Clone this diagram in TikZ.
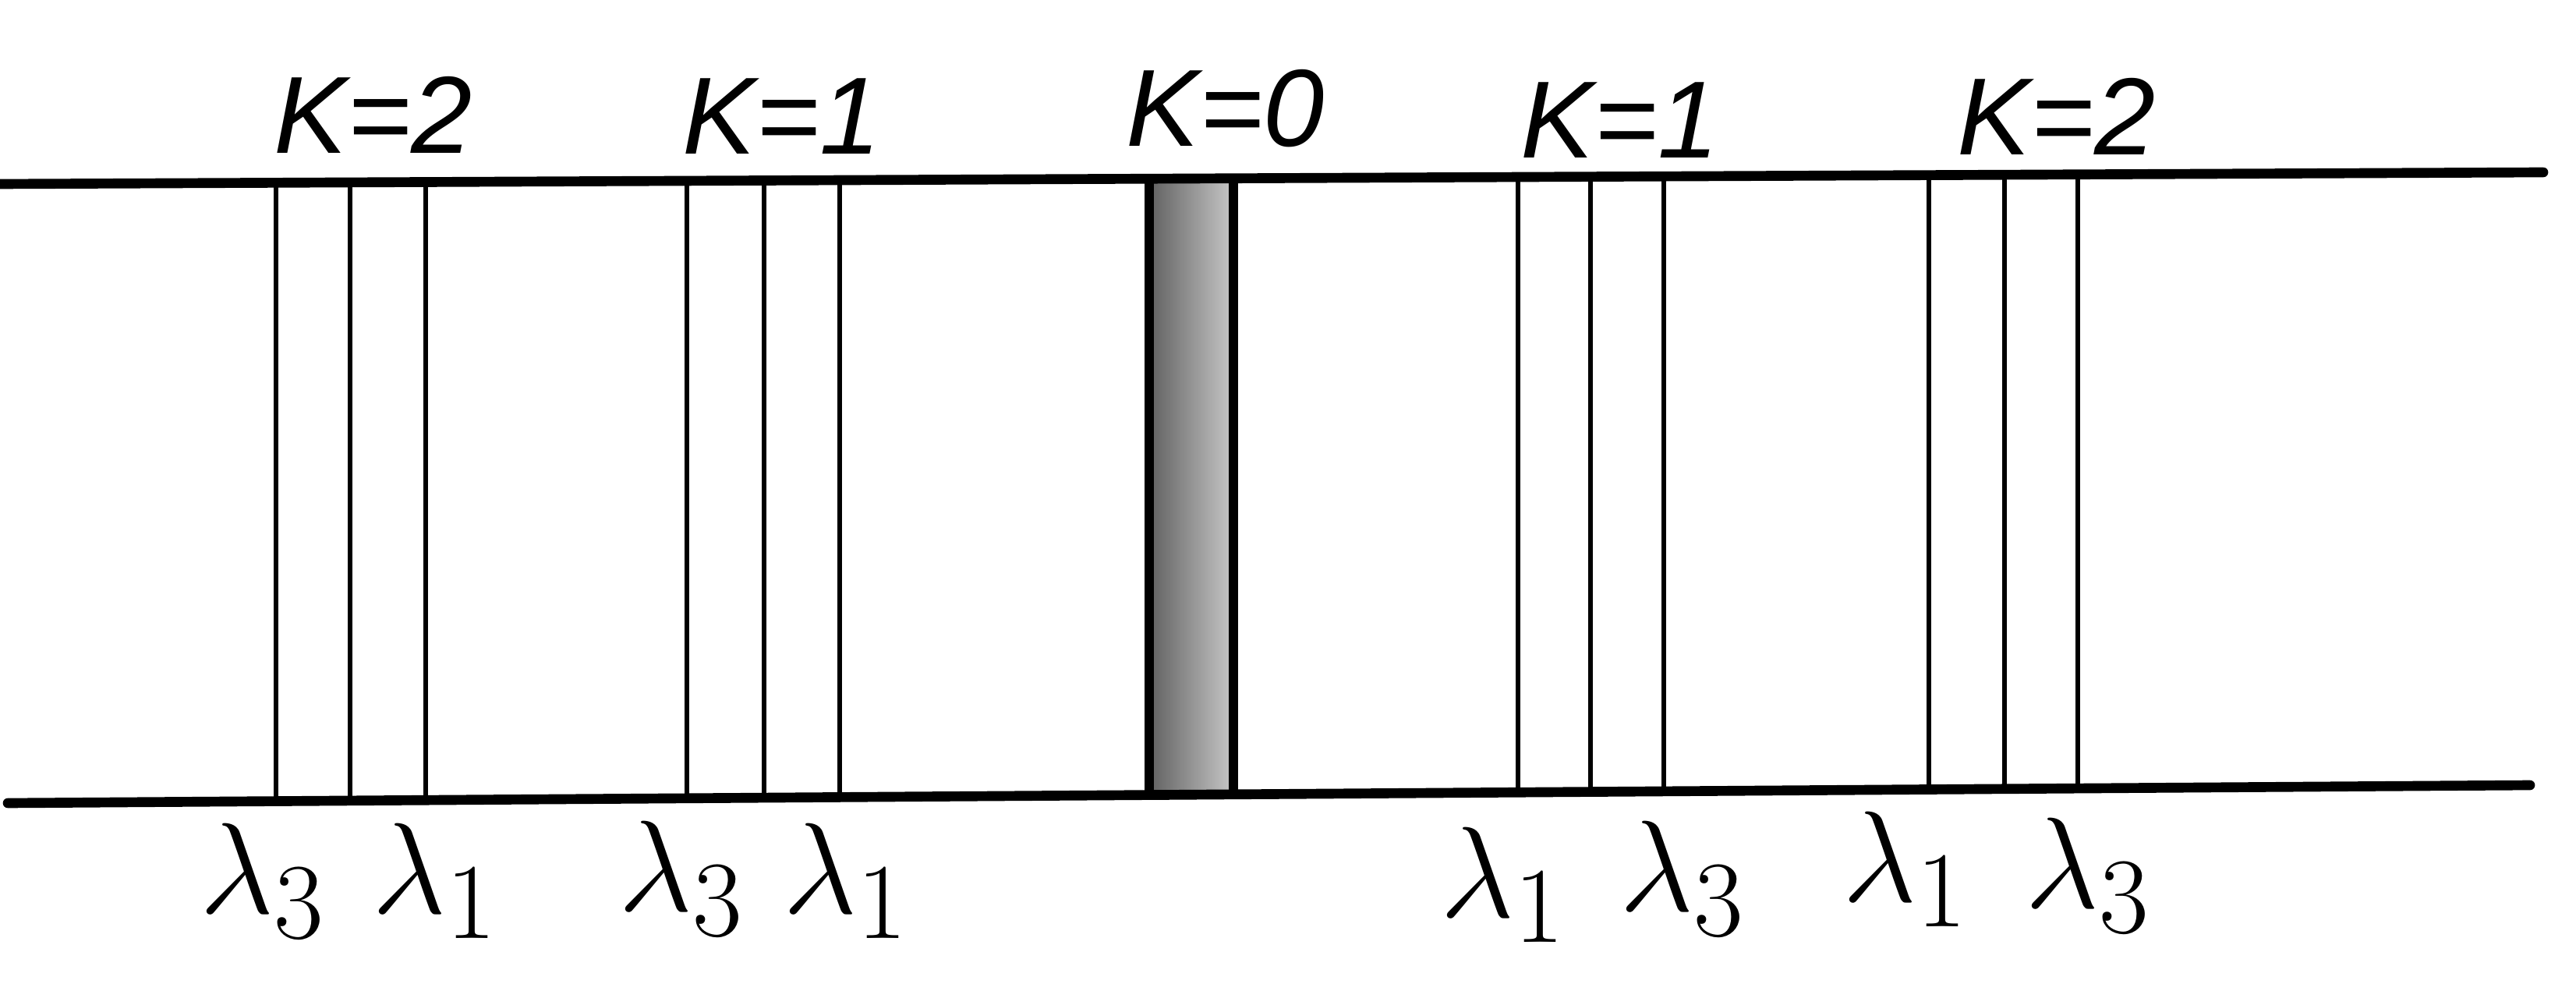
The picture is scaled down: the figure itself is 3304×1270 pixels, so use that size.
\documentclass[tikz,border=0pt]{standalone}
\usepackage{graphicx}
\usepackage{fontspec}
\newfontfamily\ordfont{Liberation Sans}
\newcommand{\wl}[1]{\scalebox{1.9}{$\lambda_{#1}$}}
\begin{document}
\begin{tikzpicture}[x=0.01cm,y=-0.01cm,
  rail/.style={line width=3.6pt,line cap=round},
  specline/.style={line width=1.9pt},
  bandedge/.style={line width=3.4pt},
  order/.style={font=\fontsize{40}{44}\selectfont\ordfont\itshape, inner sep=0pt},
  wave/.style={font=\fontsize{24.88}{30}\selectfont, inner sep=0pt}]
\useasboundingbox (0,0) rectangle (3304,1270);
\fill[white] (0,0) rectangle (3304,1270);
% rails
\coordinate (TL) at (0,236); \coordinate (TR) at (3262,221);
\coordinate (BL) at (10,1030); \coordinate (BR) at (3245,1007);
% central band (zero order)
\coordinate (bandTL) at (1474,229); \coordinate (bandBR) at (1582,1019);
\shade[left color=black!62,right color=black!22] (bandTL) rectangle (bandBR);
\draw[bandedge] (1474,229) -- (1474,1019);
\draw[bandedge] (1582,229) -- (1582,1019);
% spectral lines
\foreach \x in {354,449,546,881,980,1077,1947,2040,2134,2474,2571,2665} {
  \pgfmathsetmacro{\yt}{236-0.0045984*\x}
  \pgfmathsetmacro{\yb}{1030-0.0071097*(\x-10)}
  \draw[specline] (\x,\yt) -- (\x,\yb);
}
\draw[rail] (TL) -- (TR);
\draw[rail] (BL) -- (BR);
% order labels
\node[order] (k2l) at (479,147) {K=2};
\node[order] (k1l) at (1003,149) {K=1};
\node[order] (k0)  at (1572,139) {K=0};
\node[order] (k1r) at (2078,154) {K=1};
\node[order] (k2r) at (2638,149) {K=2};
% wavelength labels
\node[wave] (a) at (337,1130) {\wl{3}};
\node[wave] (b) at (558,1130) {\wl{1}};
\node[wave] (c) at (874,1127) {\wl{3}};
\node[wave] (d) at (1085,1130) {\wl{1}};
\node[wave] (e) at (1928,1135) {\wl{1}};
\node[wave] (f) at (2158,1127) {\wl{3}};
\node[wave] (g) at (2444,1115) {\wl{1}};
\node[wave] (h) at (2678,1123) {\wl{3}};
\end{tikzpicture}
\end{document}
